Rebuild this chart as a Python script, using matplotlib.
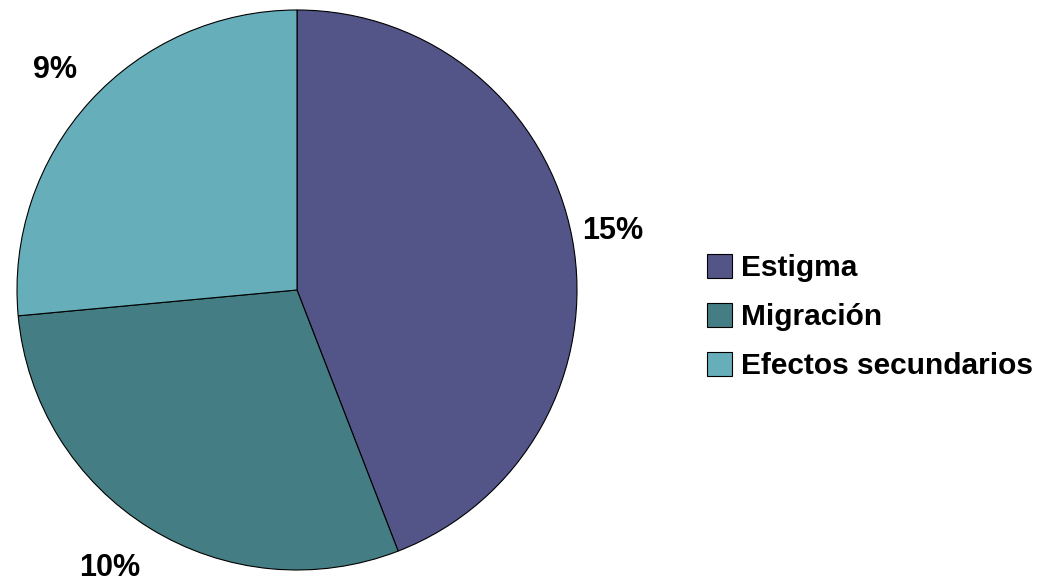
import matplotlib
matplotlib.use("Agg")
import matplotlib.pyplot as plt
from matplotlib import font_manager

categories = ["Estigma", "Migración", "Efectos secundarios"]
values = [15, 10, 9]
labels = ["15%", "10%", "9%"]
colors = ["#535487", "#447E84", "#67AEBB"]

names = {f.name for f in font_manager.fontManager.ttflist}
fam = [n for n in ["Liberation Sans Narrow", "Liberation Sans", "DejaVu Sans"] if n in names]

W, H = 1043, 583
fig = plt.figure(figsize=(W / 100, H / 100), dpi=100)
ax = fig.add_axes([17 / W, 13 / H, 560 / W, 560 / H])
wedges, _ = ax.pie(values, colors=colors, startangle=90, counterclock=False,
                   wedgeprops=dict(edgecolor="black", linewidth=0.8))
ax.set_xlim(-1, 1)
ax.set_ylim(-1, 1)
ax.set_aspect("equal")
ax.axis("off")

# label positions (figure pixels)
pos = [(613, 231), (110, 568), (55, 70)]
for lab, (x, y) in zip(labels, pos):
    fig.text(x / W, 1 - y / H, lab, ha="center", va="center", fontsize=22,
             fontweight="bold", family=fam)

leg = fig.legend(wedges, categories, loc="center left",
                 bbox_to_anchor=(680 / W, 1 - 317 / H), frameon=False,
                 prop=dict(family=fam, size=21.5, weight="bold"),
                 handlelength=0.85, handleheight=0.85, handletextpad=0.3,
                 labelspacing=0.7)

fig.savefig("out.png", dpi=100)
